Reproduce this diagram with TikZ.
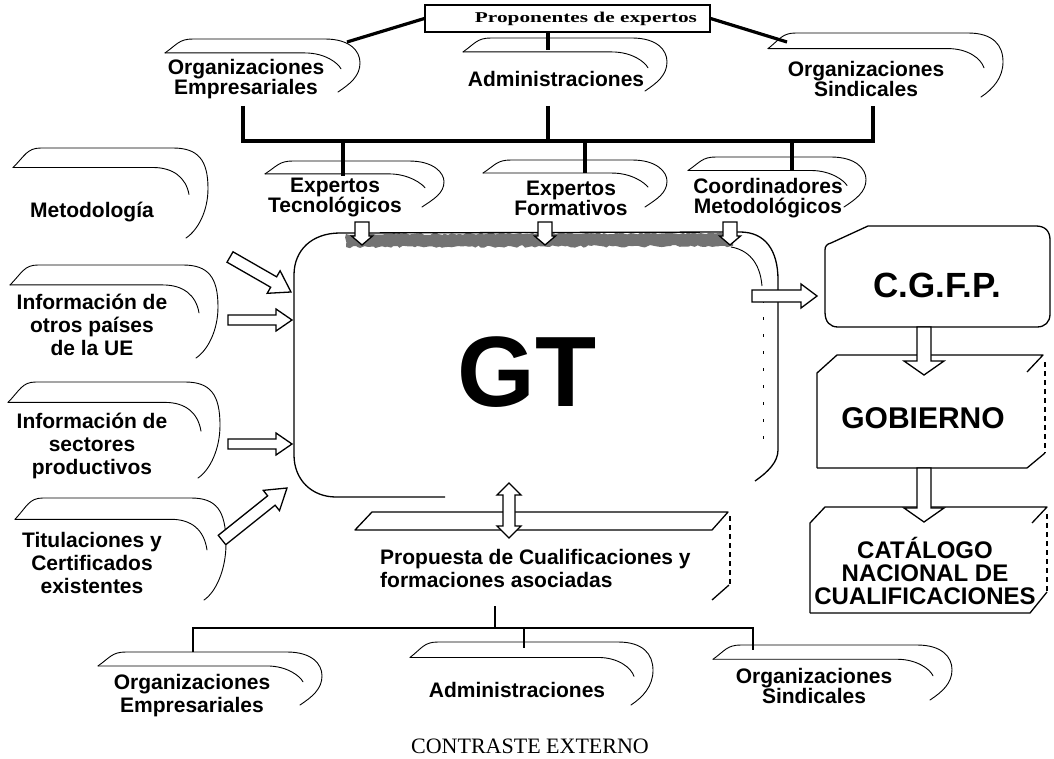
\documentclass[tikz,border=0pt]{standalone}
\usepackage{fontspec}
\usepackage{graphicx}
\setmainfont{Liberation Serif}
\setsansfont{Liberation Sans}
\usetikzlibrary{calc,decorations.pathmorphing}

% outline of a scroll-shaped label: left, top, right, bottom
\newcommand{\scrollshape}[4]{%
  \pgfmathsetmacro\scrL{#1}\pgfmathsetmacro\scrT{#2}%
  \pgfmathsetmacro\scrR{#3}\pgfmathsetmacro\scrB{#4}%
  \pgfmathsetmacro\scrH{\scrB-\scrT}%
  \pgfmathsetmacro\scrD{0.15*\scrH+6}%
  \draw[scrollline] (\scrL,\scrT+\scrD) .. controls (\scrL+12,\scrT+0.4*\scrD) and (\scrL+14,\scrT) .. (\scrL+28,\scrT)
     -- (\scrR-35,\scrT) .. controls (\scrR-10,\scrT) and (\scrR,\scrT+12) .. (\scrR,\scrT+0.45*\scrH)
     .. controls (\scrR,\scrT+0.7*\scrH) and (\scrR-10,\scrB-8) .. (\scrR-22,\scrB);
  \draw[scrollline] (\scrL,\scrT+\scrD) -- (\scrR-55,\scrT+\scrD)
     .. controls (\scrR-35,\scrT+\scrD) and (\scrR-22,\scrT+\scrD+10) .. (\scrR-19,\scrT+\scrD+0.3*\scrH);
}

% hollow block arrow between two named points: shaft half width, head half width, head length
\newcommand{\barrow}[5]{%
  \path[blockarrow] let \p1=(#1), \p2=(#2), \n1={atan2(\y2-\y1,\x2-\x1)}, \n2={veclen(\x2-\x1,\y2-\y1)} in
    [shift={(\p1)}, rotate=\n1]
    (0pt,-#3pt) -- ({\n2*1pt-#5pt},-#3pt) -- ({\n2*1pt-#5pt},-#4pt) -- ({\n2*1pt},0pt)
    -- ({\n2*1pt-#5pt},#4pt) -- ({\n2*1pt-#5pt},#3pt) -- (0pt,#3pt) -- cycle;
}
% hollow double-headed block arrow
\newcommand{\dbarrow}[5]{%
  \path[blockarrow] let \p1=(#1), \p2=(#2), \n1={atan2(\y2-\y1,\x2-\x1)}, \n2={veclen(\x2-\x1,\y2-\y1)} in
    [shift={(\p1)}, rotate=\n1]
    (0pt,0pt) -- (#5pt,-#4pt) -- (#5pt,-#3pt) -- ({\n2*1pt-#5pt},-#3pt) -- ({\n2*1pt-#5pt},-#4pt) -- ({\n2*1pt},0pt)
    -- ({\n2*1pt-#5pt},#4pt) -- ({\n2*1pt-#5pt},#3pt) -- (#5pt,#3pt) -- (#5pt,#4pt) -- cycle;
}

\tikzset{
  scrollline/.style={line width=0.9pt, line cap=round},
  blockarrow/.style={draw=black, fill=white, line width=1.3pt, line join=miter},
  label/.style={font=\sffamily\bfseries\fontsize{21}{20}\selectfont, align=center, inner sep=0pt},
  labelwide/.style={font=\sffamily\bfseries\fontsize{21}{23}\selectfont, align=center, inner sep=0pt},
  bigbox/.style={font=\sffamily\bfseries, align=center, inner sep=0pt},
  trunk/.style={line width=3.2pt},
  trunkthin/.style={line width=2.6pt},
  boxline/.style={line width=1.3pt, line join=round},
  faintedge/.style={line width=1.1pt, dash pattern=on 5pt off 4pt},
}

\begin{document}
\begin{tikzpicture}[x=1pt,y=-1pt]
\useasboundingbox[fill=white] (0,0) rectangle (1054,759);

% ---------- proposers ----------
\node[draw, line width=1.2pt, minimum width=285pt, minimum height=27pt, inner sep=0pt] (pbox) at (567.5,18.5) {};
\node[inner sep=0pt] (ptext) at (586,19)
  {\scalebox{1.42}[1]{\bfseries\fontsize{15}{16}\selectfont Proponentes de expertos}};

\scrollshape{165}{39}{360}{92}
\scrollshape{463}{38}{667}{91}
\scrollshape{768}{33}{1003}{97}
\node[label] (oe1) at (246,79) {Organizaciones\\Empresariales};
\node[label] (adm1) at (556,79) {Administraciones};
\node[label] (os1) at (866,79) {Organizaciones\\Sindicales};

\coordinate (s1in) at (347,42);
\coordinate (s2in) at (548,50);
\coordinate (s3in) at (787,42);
\coordinate (pbs) at (548,32);
\draw[trunk] (pbox.west) -- (s1in);
\draw[trunk] (pbs) -- (s2in);
\draw[trunk] (pbox.east) -- (s3in);

% ---------- expert groups ----------
\coordinate (bus) at (0,141);
\coordinate (oe1b) at (243,106);
\coordinate (adm1b) at (548,106);
\coordinate (os1b) at (873,106);
\draw[trunk] (oe1b) -- (oe1b |- bus) -- (os1b |- bus) -- (os1b);
\draw[trunk] (adm1b) -- (adm1b |- bus);

\scrollshape{265}{161}{444}{207}
\scrollshape{483}{160}{667}{207}
\scrollshape{688}{157}{866}{207}
\node[label] (et) at (335,198) {Expertos\\Tecnológicos};
\node[label] (ef) at (571,198) {Expertos\\Formativos};
\node[label] (cm) at (768,198) {Coordinadores\\Metodológicos};

\coordinate (ett) at (343,176);
\coordinate (eft) at (585,173);
\coordinate (cmt) at (792,171);
\draw[trunk] (ett |- bus) -- (ett);
\draw[trunk] (eft |- bus) -- (eft);
\draw[trunk] (cmt |- bus) -- (cmt);

% ---------- working group ----------
\fill[black!55, decorate, decoration={random steps, segment length=3pt, amplitude=1.2pt}]
  (346,234) -- (733,233) -- (733,246) -- (346,247) -- cycle;
\draw[boxline] (445,497) -- (336,497) .. controls (312,497) and (294,480) .. (294,455)
   -- (294,275) .. controls (294,250) and (312,233) .. (340,233) -- (740,232)
   .. controls (765,232) and (778,250) .. (778,280) -- (778,450)
   .. controls (778,462) and (768,472) .. (755,481);
\draw[line width=0.9pt] (731,247) .. controls (748,250) and (760,262) .. (762,286);
\draw[line width=0.9pt, dash pattern=on 3pt off 14pt] (763,300) -- (763,445);
\node[bigbox, font=\sffamily\bfseries\fontsize{100}{100}\selectfont] (gt) at (527,372) {GT};

\coordinate (d1s) at (362,222); \coordinate (d1e) at (362,245);
\coordinate (d2s) at (545,222); \coordinate (d2e) at (545,245);
\coordinate (d3s) at (730,222); \coordinate (d3e) at (730,245);
\barrow{d1s}{d1e}{7}{10.5}{9}
\barrow{d2s}{d2e}{7}{10.5}{9}
\barrow{d3s}{d3e}{7}{10.5}{9}

% ---------- inputs ----------
\scrollshape{13}{148}{208}{238}
\scrollshape{10}{265}{218}{358}
\scrollshape{8}{382}{220}{478}
\scrollshape{15}{498}{226}{600}
\node[label] (met) at (92,212) {Metodología};
\node[labelwide] (inf1) at (92,325) {Información de\\otros países\\de la UE};
\node[labelwide] (inf2) at (92,446) {Información de\\sectores\\productivos};
\node[labelwide] (tit) at (92,563) {Titulaciones y\\Certificados\\existentes};

\coordinate (a1s) at (230,257); \coordinate (a1e) at (291,292);
\coordinate (a2s) at (228,320); \coordinate (a2e) at (292,320);
\coordinate (a3s) at (228,444); \coordinate (a3e) at (292,444);
\coordinate (a4s) at (222,540); \coordinate (a4e) at (287,488);
\barrow{a1s}{a1e}{6}{13}{20}
\barrow{a2s}{a2e}{5}{11}{16}
\barrow{a3s}{a3e}{5}{11}{16}
\barrow{a4s}{a4e}{6}{13}{20}

% ---------- approval chain ----------
\draw[boxline] (825,312) -- (825,250) .. controls (825,246) and (827,244) .. (831,243)
   -- (868,226) -- (1036,226) .. controls (1045,226) and (1050,231) .. (1050,240)
   -- (1050,314) .. controls (1050,322) and (1045,327) .. (1037,327)
   -- (838,327) .. controls (830,327) and (825,322) .. (825,312);
\node[bigbox, font=\sffamily\bfseries\fontsize{35}{35}\selectfont] (cgfp) at (937,285) {C.G.F.P.};

\draw[boxline] (817,468) -- (817,373) -- (837,355) -- (1043,355) -- (1027,372);
\draw[boxline] (1045,453) -- (1027,468) -- (817,468);
\draw[faintedge] (1045,362) -- (1045,453);
\node[bigbox, font=\sffamily\bfseries\fontsize{30}{30}\selectfont] (gob) at (923,418) {GOBIERNO};

\draw[boxline] (810,613) -- (810,523) -- (825,507) -- (1047,507) -- (1032,523);
\draw[boxline] (1047,592) -- (1030,613) -- (810,613);
\draw[faintedge] (1047,514) -- (1047,592);
\node[bigbox, font=\sffamily\bfseries\fontsize{24}{23}\selectfont] (cat) at (925,571)
  {CATÁLOGO\\NACIONAL DE\\CUALIFICACIONES};

\coordinate (a5s) at (752,296); \coordinate (a5e) at (817,296);
\barrow{a5s}{a5e}{6}{12}{16}
\coordinate (a6s) at (924,327); \coordinate (a6e) at (924,375);
\barrow{a6s}{a6e}{7}{20}{14}
\coordinate (a7s) at (924,468); \coordinate (a7e) at (924,522);
\barrow{a7s}{a7e}{7}{20}{14}

% ---------- proposal and external review ----------
\draw[boxline] (355,530) -- (372,512) -- (728,512) -- (712,530) -- cycle;
\draw[faintedge] (730,516) -- (730,585);
\draw[boxline] (729,585) -- (712,600);
\node[labelwide, align=left, anchor=west] (prop) at (380,568)
  {Propuesta de Cualificaciones y\\formaciones asociadas};

\coordinate (dbs) at (509,483); \coordinate (dbe) at (509,538);
\dbarrow{dbs}{dbe}{6}{12}{12}

\coordinate (bbus) at (0,628);
\coordinate (propb) at (495,606);
\coordinate (oe2t) at (193,652);
\coordinate (adm2t) at (524,648);
\coordinate (os2t) at (753,650);
\draw[trunkthin] (propb) -- (propb |- bbus);
\draw[trunkthin] (oe2t) -- (oe2t |- bbus) -- (os2t |- bbus) -- (os2t);
\draw[trunkthin] (adm2t |- bbus) -- (adm2t);

\scrollshape{98}{652}{322}{705}
\scrollshape{410}{642}{653}{705}
\scrollshape{713}{645}{952}{700}
\node[labelwide] (oe2) at (192,696) {Organizaciones\\Empresariales};
\node[label] (adm2) at (517,690) {Administraciones};
\node[label] (os2) at (814,686) {Organizaciones\\Sindicales};

\node[inner sep=0pt, font=\fontsize{22}{22}\selectfont] (ext) at (530,746) {CONTRASTE EXTERNO};
\end{tikzpicture}
\end{document}
